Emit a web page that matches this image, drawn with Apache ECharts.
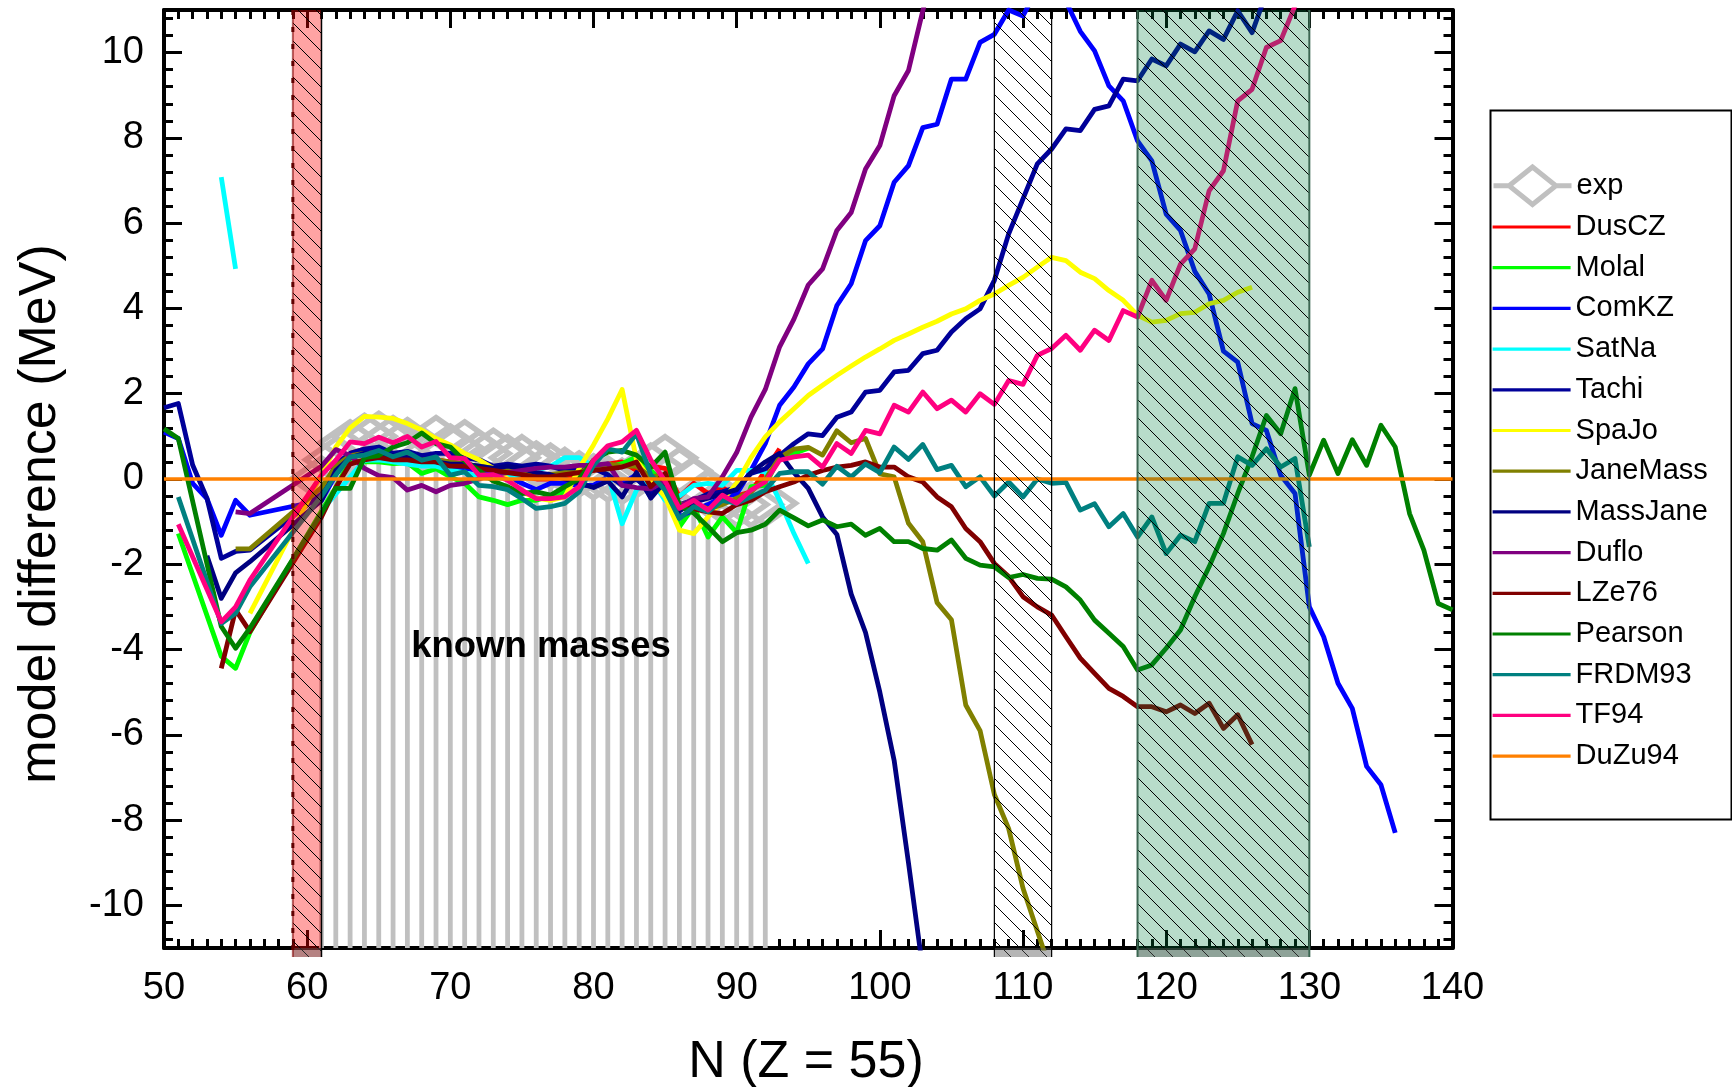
<!DOCTYPE html>
<html><head><meta charset="utf-8">
<script src="https://cdn.jsdelivr.net/npm/echarts@6/dist/echarts.min.js"></script>
<style>html,body{margin:0;padding:0;background:#fff}#c{width:1732px;height:1087px}</style>
</head><body><div id="c"></div>
<script>
// ---------------- data ----------------
const X_MIN = 50, X_MAX = 140, X_STEP = 10;
const Y_MIN = -11, Y_MAX = 11;
const bandRanges = [[59, 61], [108, 112], [118, 130]];

const expData = [[61,0.0],[62,0.45],[63,0.85],[64,1.0],[65,1.05],[66,0.95],[67,0.9],[68,0.7],[69,0.95],[70,0.75],[71,0.85],[72,0.6],[73,0.65],[74,0.5],[75,0.5],[76,0.35],[77,0.3],[78,0.2],[79,0.12],[80,0.05],[81,0.0],[82,-0.05],[83,0.1],[84,0.3],[85,0.5],[86,0.2],[87,-0.05],[88,-0.35],[89,-0.5],[90,-0.6],[91,-0.6],[92,-0.57]];

const dusCZ = [[61,-0.3],[62,0.3],[63,0.6],[64,0.7],[65,0.7],[66,0.6],[67,0.55],[68,0.5],[69,0.45],[70,0.4],[71,0.35],[72,0.25],[73,0.2],[74,0.1],[75,0.05],[76,0.0],[77,0.0],[78,0.05],[79,0.1],[80,0.2],[81,0.35],[82,0.4],[83,0.2],[84,0.3],[85,0.25],[86,-0.42],[87,-0.1],[88,-0.34],[89,-0.2],[90,-0.4],[91,-0.3],[92,0.2],[93,0.71]];

const molal = [[51,-1.28],[54,-4.16],[55,-4.44],[56,-3.6],[61,-0.75],[62,-0.2],[63,0.44],[64,0.4],[65,0.4],[66,0.36],[67,0.38],[68,0.13],[69,0.24],[70,0.05],[71,-0.1],[72,-0.42],[73,-0.5],[74,-0.6],[75,-0.5],[76,-0.5],[77,-0.4],[78,-0.3],[79,0.2],[80,0.25],[81,0.28],[82,0.36],[83,0.52],[84,0.2],[85,-0.1],[86,-1.12],[87,-0.65],[88,-1.36],[89,-0.89],[90,-1.26],[91,-0.18],[92,-0.15],[93,0.52],[94,0.6],[95,0.72]];

const comKZ = [[50,1.1],[51,0.95],[52,-0.1],[53,-0.46],[54,-1.32],[55,-0.5],[56,-0.85],[61,-0.5],[62,0.1],[63,0.55],[64,0.6],[65,0.55],[66,0.45],[67,0.45],[68,0.4],[69,0.35],[70,0.3],[71,0.25],[72,0.2],[73,0.1],[74,0.05],[75,-0.1],[76,-0.25],[77,-0.1],[78,-0.1],[79,-0.15],[80,-0.15],[81,0.05],[82,-0.1],[83,0.1],[84,-0.42],[85,0.1],[86,-0.89],[87,-0.73],[88,-0.6],[89,-0.42],[90,-0.35],[91,0.2],[92,0.83],[93,1.73],[94,2.16],[95,2.7],[96,3.05],[97,4.07],[98,4.58],[99,5.59],[100,5.94],[101,6.96],[102,7.35],[103,8.24],[104,8.32],[105,9.38],[106,9.38],[107,10.24],[108,10.43],[109,11.0],[110,10.86],[111,11.5],[112,11.6],[113,11.2],[114,10.5],[115,10.04],[116,9.22],[117,8.87],[118,7.93],[119,7.46],[120,6.21],[121,5.83],[122,4.87],[123,4.34],[124,3.0],[125,2.74],[126,1.3],[127,1.14],[128,0.09],[129,-0.34],[130,-3.0],[131,-3.7],[132,-4.79],[133,-5.38],[134,-6.74],[135,-7.17],[136,-8.3]];

const satNaA = [[54,7.08],[55,4.93]];
const satNaB = [[61,-0.75],[62,-0.35],[63,0.05],[64,0.44],[65,0.45],[66,0.4],[67,0.35],[68,0.3],[69,0.3],[70,0.2],[71,0.15],[72,0.05],[73,0.0],[74,0.05],[75,0.1],[76,0.2],[77,0.3],[78,0.5],[79,0.5],[80,0.3],[81,0.1],[82,-1.05],[83,-0.26],[84,0.0],[85,-0.5],[86,-0.4],[87,-0.15],[88,-0.1],[89,-0.15],[90,0.2],[91,0.2],[92,0.17],[93,-0.5],[94,-1.28],[95,-1.98]];

const tachi = [[50,1.67],[51,1.77],[52,0.33],[53,-0.45],[54,-1.86],[55,-1.7],[56,-1.67],[61,-0.35],[62,0.35],[63,0.6],[64,0.7],[65,0.75],[66,0.6],[67,0.65],[68,0.55],[69,0.6],[70,0.6],[71,0.5],[72,0.45],[73,0.3],[74,0.35],[75,0.3],[76,0.35],[77,0.3],[78,0.2],[79,0.2],[80,0.25],[81,0.1],[82,-0.15],[83,0.0],[84,-0.3],[85,-0.1],[86,-0.6],[87,-0.5],[88,-0.35],[89,-0.3],[90,-0.2],[91,0.13],[92,0.24],[93,0.55],[94,0.83],[95,1.06],[96,1.02],[97,1.45],[98,1.57],[99,2.04],[100,2.08],[101,2.51],[102,2.55],[103,2.94],[104,3.02],[105,3.45],[106,3.76],[107,3.99],[108,4.66],[109,5.75],[110,6.57],[111,7.39],[112,7.74],[113,8.21],[114,8.17],[115,8.67],[116,8.75],[117,9.38],[118,9.34],[119,9.85],[120,9.69],[121,10.2],[122,10.02],[123,10.51],[124,10.31],[125,10.98],[126,10.47],[127,11.4]];

const spaJo = [[56,-3.15],[61,0.1],[62,0.75],[63,1.2],[64,1.47],[65,1.45],[66,1.42],[67,1.3],[68,1.15],[69,0.95],[70,0.8],[71,0.6],[72,0.45],[73,0.25],[74,0.0],[75,-0.3],[76,-0.45],[77,-0.5],[78,-0.42],[79,0.25],[80,0.8],[81,1.41],[82,2.1],[83,0.45],[84,-0.03],[85,-0.42],[86,-1.2],[87,-1.28],[88,-0.89],[89,-0.5],[90,-0.1],[91,0.5],[92,0.99],[93,1.34],[94,1.65],[95,1.96],[96,2.2],[97,2.43],[98,2.65],[99,2.86],[100,3.05],[101,3.25],[102,3.4],[103,3.56],[104,3.7],[105,3.87],[106,3.99],[107,4.19],[108,4.34],[109,4.54],[110,4.73],[111,4.97],[112,5.2],[113,5.12],[114,4.85],[115,4.7],[116,4.42],[117,4.19],[118,3.84],[119,3.68],[120,3.72],[121,3.88],[122,3.91],[123,4.11],[124,4.19],[125,4.38],[126,4.5]];

const janeMass = [[55,-1.64],[56,-1.64],[61,-0.2],[62,0.3],[63,0.55],[64,0.6],[65,0.55],[66,0.5],[67,0.5],[68,0.45],[69,0.45],[70,0.4],[71,0.35],[72,0.3],[73,0.25],[74,0.2],[75,0.15],[76,0.1],[77,0.1],[78,0.15],[79,0.15],[80,0.3],[81,0.35],[82,0.3],[83,0.3],[84,0.05],[85,0.1],[86,-0.6],[87,-0.55],[88,-0.7],[89,-0.6],[90,-0.45],[91,-0.3],[92,0.0],[93,0.5],[94,0.7],[95,0.74],[96,0.56],[97,1.13],[98,0.85],[99,0.95],[100,0.12],[101,0.05],[102,-1.04],[103,-1.47],[104,-2.9],[105,-3.3],[106,-5.3],[107,-5.9],[108,-7.4],[109,-8.2],[110,-9.6],[111,-10.6],[112,-11.6]];

const massJane = [[53,-1.8],[54,-2.8],[55,-2.2],[56,-1.94],[61,-0.5],[62,0.2],[63,0.5],[64,0.6],[65,0.6],[66,0.55],[67,0.5],[68,0.45],[69,0.4],[70,0.35],[71,0.35],[72,0.3],[73,0.25],[74,0.3],[75,0.25],[76,0.15],[77,0.1],[78,0.0],[79,-0.1],[80,-0.2],[81,-0.05],[82,-0.42],[83,0.15],[84,-0.45],[85,-0.05],[86,-0.75],[87,-0.55],[88,-0.45],[89,-0.35],[90,-0.25],[91,0.15],[92,0.4],[93,0.6],[94,0.15],[95,-0.22],[96,-0.89],[97,-1.3],[98,-2.7],[99,-3.6],[100,-5.0],[101,-6.6],[102,-9.0],[103,-11.5]];

const duflo = [[55,-0.77],[56,-0.81],[61,0.3],[62,0.69],[63,0.55],[64,0.25],[65,0.08],[66,0.03],[67,-0.26],[68,-0.15],[69,-0.3],[70,-0.15],[71,-0.1],[72,0.0],[73,0.1],[74,0.15],[75,0.2],[76,0.25],[77,0.28],[78,0.28],[79,0.32],[80,0.32],[81,0.36],[82,-0.15],[83,-0.2],[84,-0.23],[85,-0.05],[86,-0.65],[87,-0.46],[88,-0.42],[89,0.05],[90,0.62],[91,1.45],[92,2.1],[93,3.1],[94,3.75],[95,4.55],[96,4.93],[97,5.83],[98,6.25],[99,7.27],[100,7.82],[101,8.99],[102,9.58],[103,10.98],[104,12.3]];

const lze76 = [[54,-4.44],[55,-3.07],[56,-3.58],[61,-0.89],[62,-0.2],[63,0.35],[64,0.45],[65,0.5],[66,0.45],[67,0.45],[68,0.4],[69,0.4],[70,0.3],[71,0.3],[72,0.25],[73,0.2],[74,0.15],[75,0.1],[76,0.05],[77,0.05],[78,0.1],[79,0.15],[80,0.2],[81,0.24],[82,0.28],[83,0.4],[84,-0.18],[85,0.13],[86,-0.65],[87,-0.7],[88,-0.77],[89,-0.81],[90,-0.6],[91,-0.5],[92,-0.3],[93,-0.18],[94,-0.07],[95,0.09],[96,0.2],[97,0.28],[98,0.32],[99,0.4],[100,0.28],[101,0.28],[102,0.05],[103,-0.07],[104,-0.42],[105,-0.65],[106,-1.16],[107,-1.47],[108,-1.98],[109,-2.29],[110,-2.76],[111,-3.0],[112,-3.19],[113,-3.7],[114,-4.2],[115,-4.56],[116,-4.91],[117,-5.1],[118,-5.34],[119,-5.34],[120,-5.46],[121,-5.3],[122,-5.5],[123,-5.26],[124,-5.85],[125,-5.53],[126,-6.23]];

const pearson = [[50,1.18],[51,0.95],[54,-3.46],[55,-3.97],[56,-3.5],[61,-0.8],[62,-0.22],[63,-0.22],[64,0.5],[65,0.55],[66,0.75],[67,0.85],[68,1.08],[69,0.83],[70,0.75],[71,0.42],[72,0.2],[73,-0.05],[74,-0.18],[75,-0.34],[76,-0.3],[77,-0.38],[78,-0.18],[79,0.0],[80,0.44],[81,0.63],[82,0.67],[83,0.56],[84,0.28],[85,0.63],[86,-0.63],[87,-0.8],[88,-1.12],[89,-1.47],[90,-1.26],[91,-1.2],[92,-1.06],[93,-0.73],[94,-0.91],[95,-1.1],[96,-0.96],[97,-1.12],[98,-1.06],[99,-1.32],[100,-1.16],[101,-1.47],[102,-1.47],[103,-1.63],[104,-1.67],[105,-1.43],[106,-1.86],[107,-2.02],[108,-2.06],[109,-2.31],[110,-2.24],[111,-2.33],[112,-2.35],[113,-2.53],[114,-2.84],[115,-3.31],[116,-3.62],[117,-3.93],[118,-4.48],[119,-4.36],[120,-3.97],[121,-3.54],[122,-2.76],[123,-2.06],[124,-1.28],[125,-0.34],[126,0.52],[127,1.49],[128,1.06],[129,2.12],[130,0.09],[131,0.91],[132,0.13],[133,0.92],[134,0.32],[135,1.26],[136,0.75],[137,-0.81],[138,-1.67],[139,-2.92],[140,-3.07]];

const frdm93 = [[51,-0.42],[54,-3.39],[55,-3.15],[56,-2.53],[61,-0.4],[62,0.1],[63,0.52],[64,0.56],[65,0.67],[66,0.52],[67,0.63],[68,0.44],[69,0.52],[70,0.09],[71,0.17],[72,-0.15],[73,-0.18],[74,-0.25],[75,-0.46],[76,-0.69],[77,-0.65],[78,-0.57],[79,-0.3],[80,0.32],[81,0.71],[82,0.63],[83,1.06],[84,0.1],[85,-0.26],[86,-0.93],[87,-0.65],[88,-0.77],[89,-0.5],[90,-0.57],[91,-0.42],[92,-0.26],[93,0.13],[94,0.17],[95,0.17],[96,-0.12],[97,0.3],[98,0.05],[99,0.35],[100,0.15],[101,0.75],[102,0.46],[103,0.81],[104,0.22],[105,0.32],[106,-0.18],[107,0.05],[108,-0.4],[109,-0.07],[110,-0.42],[111,0.0],[112,-0.1],[113,-0.08],[114,-0.73],[115,-0.58],[116,-1.12],[117,-0.81],[118,-1.36],[119,-0.89],[120,-1.75],[121,-1.32],[122,-1.47],[123,-0.57],[124,-0.57],[125,0.52],[126,0.32],[127,0.71],[128,0.28],[129,0.48],[130,-1.59]];

const tf94 = [[51,-1.06],[54,-3.35],[55,-3.0],[56,-2.37],[61,0.09],[62,0.44],[63,0.87],[64,0.83],[65,0.98],[66,0.85],[67,1.0],[68,0.75],[69,0.88],[70,0.5],[71,0.48],[72,0.09],[73,0.1],[74,-0.03],[75,-0.26],[76,-0.46],[77,-0.46],[78,-0.42],[79,-0.18],[80,0.44],[81,0.78],[82,0.87],[83,1.14],[84,0.45],[85,-0.05],[86,-0.69],[87,-0.5],[88,-0.73],[89,-0.38],[90,-0.57],[91,-0.26],[92,-0.07],[93,0.44],[94,0.52],[95,0.56],[96,0.28],[97,0.83],[98,0.6],[99,1.14],[100,1.06],[101,1.73],[102,1.57],[103,2.04],[104,1.65],[105,1.85],[106,1.57],[107,2.0],[108,1.75],[109,2.31],[110,2.22],[111,2.9],[112,3.06],[113,3.37],[114,3.02],[115,3.49],[116,3.25],[117,3.95],[118,3.8],[119,4.66],[120,4.19],[121,5.04],[122,5.4],[123,6.76],[124,7.23],[125,8.87],[126,9.14],[127,10.12],[128,10.28],[129,11.1]];

const duZu94 = [[50,0],[140,0]];

// ---------------- styling ----------------
const FONT = '"Liberation Sans", Arial, Helvetica, sans-serif';
const models = [
  {name:'DusCZ', data:[dusCZ], color:'#ff0000'},
  {name:'Molal', data:[molal], color:'#00ff00'},
  {name:'ComKZ', data:[comKZ], color:'#0000ff'},
  {name:'SatNa', data:[satNaA, satNaB], color:'#00ffff'},
  {name:'Tachi', data:[tachi], color:'#000099'},
  {name:'SpaJo', data:[spaJo], color:'#ffff00'},
  {name:'JaneMass', data:[janeMass], color:'#808000'},
  {name:'MassJane', data:[massJane], color:'#000080'},
  {name:'Duflo', data:[duflo], color:'#800080'},
  {name:'LZe76', data:[lze76], color:'#800000'},
  {name:'Pearson', data:[pearson], color:'#008000'},
  {name:'FRDM93', data:[frdm93], color:'#008080'},
  {name:'TF94', data:[tf94], color:'#ff0080'},
  {name:'DuZu94', data:[duZu94], color:'#ff8000', width:3.4}
];
const BAND_STYLE = [
  {fill:'rgba(255,0,0,0.36)', left:[{stroke:'rgba(128,0,0,0.6)', lineWidth:2},{stroke:'#600000', lineWidth:3, lineDash:[5,12]}], right:[{stroke:'#000', lineWidth:1.5}]},
  {fill:'rgba(0,0,0,0)', left:[{stroke:'#000', lineWidth:1.2}], right:[{stroke:'#000', lineWidth:1.2}]},
  {fill:'rgba(0,128,64,0.28)', left:[{stroke:'#3b6651', lineWidth:2}], right:[{stroke:'#3b6651', lineWidth:2}]}
];

function renderBand(params, api) {
  const st = BAND_STYLE[params.dataIndex];
  const a = api.coord([api.value(0), Y_MAX]);
  const b = api.coord([api.value(1), Y_MIN]);
  const L = a[0], R = b[0], T = a[1], B = b[1] + 9;
  const kids = [{type:'rect', shape:{x:L, y:T, width:R-L, height:B-T}, style:{fill:st.fill}}];
  const step = 18;
  const c0 = Math.ceil((T - R) / step) * step;
  for (let c = c0; c <= B - L; c += step) {
    const xa = Math.max(L, T - c), xb = Math.min(R, B - c);
    if (xb - xa > 0.5) kids.push({type:'line', shape:{x1:xa, y1:xa + c, x2:xb, y2:xb + c}, style:{stroke:'#000', lineWidth:1}});
  }
  kids.push({type:'rect', shape:{x:L, y:b[1], width:R-L, height:9}, style:{fill:'rgba(90,90,90,0.45)'}});
  st.left.forEach(s => kids.push({type:'line', shape:{x1:L, y1:T, x2:L, y2:B}, style:s}));
  st.right.forEach(s => kids.push({type:'line', shape:{x1:R, y1:T, x2:R, y2:B}, style:s}));
  return {type:'group', children:kids};
}

function renderExp(params, api) {
  const p = api.coord([api.value(0), api.value(1)]);
  const yb = api.coord([api.value(0), Y_MIN])[1];
  const hw = 30, hh = 21;
  return {type:'group', children:[
    {type:'line', shape:{x1:p[0], y1:p[1] + hh, x2:p[0], y2:yb}, style:{stroke:'#c0c0c0', lineWidth:4.8}},
    {type:'polygon', shape:{points:[[p[0], p[1]-hh],[p[0]+hw, p[1]],[p[0], p[1]+hh],[p[0]-hw, p[1]]]}, style:{fill:'none', stroke:'#c0c0c0', lineWidth:5.5}}
  ]};
}

const series = [];
series.push({name:'exp', type:'custom', coordinateSystem:'cartesian2d', renderItem:renderExp, data:expData, encode:{x:0, y:1}, itemStyle:{color:'#c0c0c0'}, z:1, silent:true});
models.forEach(m => {
  m.data.forEach(d => {
    series.push({name:m.name, type:'line', data:d, symbol:'none', showSymbol:false, clip:true, z:2, silent:true,
      itemStyle:{color:m.color}, lineStyle:{color:m.color, width:m.width || 4.8, join:'round'}});
  });
});
series.push({name:'bands', type:'custom', coordinateSystem:'cartesian2d', renderItem:renderBand, data:bandRanges, encode:{x:[0,1]}, z:5, clip:false, silent:true});

function xAxisCfg(pos, show) {
  return {type:'value', position:pos, min:X_MIN, max:X_MAX, interval:X_STEP,
    axisLine:{show:true, onZero:false, lineStyle:{color:'#000', width:4}},
    axisTick:{show:true, inside:true, length:18, lineStyle:{color:'#000', width:3}},
    minorTick:{show:true, splitNumber:10, length:9, lineStyle:{color:'#000', width:3}},
    splitLine:{show:false}, minorSplitLine:{show:false},
    axisLabel:{show:show, margin:22, fontSize:38, color:'#000', fontFamily:FONT}};
}
function yAxisCfg(pos, show) {
  return {type:'value', position:pos, min:Y_MIN, max:Y_MAX, splitNumber:11, minInterval:2, maxInterval:2,
    axisLine:{show:true, onZero:false, lineStyle:{color:'#000', width:4}},
    axisTick:{show:true, inside:true, length:18, lineStyle:{color:'#000', width:3}},
    minorTick:{show:true, splitNumber:5, length:9, lineStyle:{color:'#000', width:3}},
    splitLine:{show:false}, minorSplitLine:{show:false},
    axisLabel:{show:show, margin:20, fontSize:38, color:'#000', fontFamily:FONT, showMinLabel:false, showMaxLabel:false}};
}

const legendText = {fontSize:29, fontFamily:FONT, color:'#000'};
const option = {
  animation:false,
  backgroundColor:'#fff',
  grid:{left:164, right:279.5, top:10, bottom:139, containLabel:false},
  xAxis:[xAxisCfg('bottom', true), xAxisCfg('top', false)],
  yAxis:[yAxisCfg('left', true), yAxisCfg('right', false)],
  legend:[
    {data:[{name:'exp', icon:'path://M0,20L15,20M60,20L75,20M15,20L37.5,2L60,20L37.5,38Z'}], orient:'vertical', left:1491, top:164.5, padding:0,
      itemWidth:78, itemHeight:40, selectedMode:false, textStyle:legendText,
      itemStyle:{color:'transparent', borderColor:'#c0c0c0', borderWidth:5}},
    {data:models.map(m => m.name), orient:'vertical', left:1491, top:212.5, padding:0,
      itemWidth:78, itemHeight:14, itemGap:11.7, selectedMode:false, textStyle:legendText,
      itemStyle:{color:'transparent', borderColor:'transparent', borderWidth:0, opacity:0},
      lineStyle:{width:3.2}}
  ],
  graphic:[
    {type:'rect', left:1488, top:108, shape:{x:0, y:0, width:241, height:709}, style:{fill:'none', stroke:'#000', lineWidth:2}, silent:true},
    {type:'text', x:41, y:514, rotation:Math.PI/2, silent:true,
      style:{text:'model difference (MeV)', fontSize:52, fontFamily:FONT, fill:'#000', align:'center', verticalAlign:'middle', textAlign:'center', textVerticalAlign:'middle'}},
    {type:'text', x:806, y:1063, silent:true,
      style:{text:'N (Z = 55)', fontSize:52, fontFamily:FONT, fill:'#000', align:'center', verticalAlign:'middle', textAlign:'center', textVerticalAlign:'middle'}},
    {type:'text', x:541, y:647, silent:true, z:100,
      style:{text:'known masses', fontSize:36.5, fontWeight:'bold', fontFamily:FONT, fill:'#000', align:'center', verticalAlign:'middle', textAlign:'center', textVerticalAlign:'middle'}}
  ],
  series:series
};
const chart = echarts.init(document.getElementById('c'));
chart.setOption(option);
</script>
</body></html>
